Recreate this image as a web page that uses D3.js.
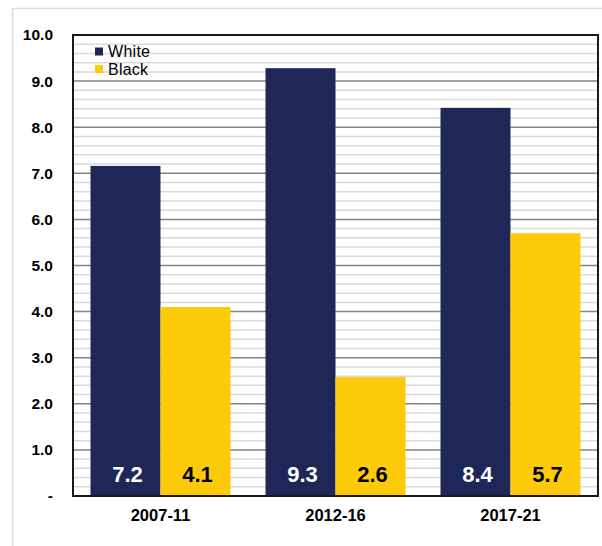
<!DOCTYPE html>
<html><head><meta charset="utf-8">
<script src="https://cdn.jsdelivr.net/npm/d3@7"></script>
<style>body{margin:0;background:#fff}svg{display:block}text{font-family:"Liberation Sans",Arial,sans-serif}</style>
</head><body>
<script>
const categories = ["2007-11", "2012-16", "2017-21"];
const seriesNames = ["White", "Black"];
const whiteValues = [7.16, 9.28, 8.42];
const blackValues = [4.10, 2.58, 5.70];
const yTickValues = [0, 1, 2, 3, 4, 5, 6, 7, 8, 9, 10];
const colors = {White: "#1f2759", Black: "#fdca0a"};

const W = 602, H = 546;
const m = {left: 73, top: 35, right: 598, bottom: 496};
const svg = d3.select("body").append("svg").attr("width", W).attr("height", H);

svg.append("rect").attr("x", 12.5).attr("y", 8.5).attr("width", 600).attr("height", 540)
  .attr("fill", "none").attr("stroke", "#dcdcdc").attr("stroke-width", 1.5);

const x = d3.scaleBand().domain(categories).range([m.left, m.right]).paddingInner(0.2).paddingOuter(0.1);
const x1 = d3.scaleBand().domain(seriesNames).range([0, x.bandwidth()]);
const y = d3.scaleLinear().domain([0, 10]).range([m.bottom, m.top]);

// minor grid
const minor = d3.range(0, 50).map(i => i * 0.2).filter(v => Math.abs(v - Math.round(v)) > 1e-6);
svg.append("g").selectAll("line").data(minor).join("line")
  .attr("x1", m.left).attr("x2", m.right).attr("y1", d => y(d)).attr("y2", d => y(d))
  .attr("stroke", "#d9d9d9").attr("stroke-width", 1.5);
// major grid
svg.append("g").selectAll("line").data(yTickValues.filter(v => v > 0 && v < 10)).join("line")
  .attr("x1", m.left).attr("x2", m.right).attr("y1", d => y(d)).attr("y2", d => y(d))
  .attr("stroke", "#858585").attr("stroke-width", 1.5);

const data = categories.map((c, i) => ({cat: c, vals: [{s: "White", v: whiteValues[i]}, {s: "Black", v: blackValues[i]}]}));
const g = svg.append("g").selectAll("g").data(data).join("g").attr("transform", d => `translate(${x(d.cat)},0)`);
g.selectAll("rect").data(d => d.vals).join("rect")
  .attr("x", d => x1(d.s)).attr("width", x1.bandwidth())
  .attr("y", d => y(d.v)).attr("height", d => y(0) - y(d.v))
  .attr("fill", d => colors[d.s]);
g.selectAll("text").data(d => d.vals).join("text")
  .attr("x", d => x1(d.s) + x1.bandwidth() / 2 + 2).attr("y", 482)
  .attr("text-anchor", "middle").attr("font-size", 22).attr("font-weight", "bold")
  .attr("fill", d => d.s === "White" ? "#fff" : "#000")
  .text(d => d3.format(".1f")(d.v));

// frame
svg.append("rect").attr("x", m.left).attr("y", m.top).attr("width", m.right - m.left).attr("height", m.bottom - m.top)
  .attr("fill", "none").attr("stroke", "#1a1a1a").attr("stroke-width", 2);

// y axis labels
const yAxis = d3.axisLeft(y).tickValues(yTickValues).tickSize(0).tickPadding(20)
  .tickFormat(d => d === 0 ? "-" : d3.format(".1f")(d));
const ya = svg.append("g").attr("transform", `translate(${m.left},0)`).call(yAxis);
ya.select(".domain").remove();
ya.selectAll("text").attr("font-size", 15.5).attr("font-weight", "bold").attr("fill", "#000")
  .style("font-family", '"Liberation Sans",Arial,sans-serif');

// x axis labels
const xAxis = d3.axisBottom(x).tickSize(0).tickPadding(13);
const xa = svg.append("g").attr("transform", `translate(0,${m.bottom})`).call(xAxis);
xa.select(".domain").remove();
xa.selectAll("text").attr("font-size", 16.5).attr("font-weight", "bold").attr("fill", "#000")
  .style("font-family", '"Liberation Sans",Arial,sans-serif');

// legend
const lg = svg.append("g").selectAll("g").data(seriesNames).join("g")
  .attr("transform", (d, i) => `translate(95,${47.5 + i * 17.5})`);
lg.append("rect").attr("width", 8).attr("height", 8).attr("fill", d => colors[d]);
lg.append("text").attr("x", 13).attr("y", 9.5).attr("font-size", 16).attr("textLength", d => d === "White" ? 42 : 40)
  .attr("fill", "#000").text(d => d);
</script>
</body></html>
